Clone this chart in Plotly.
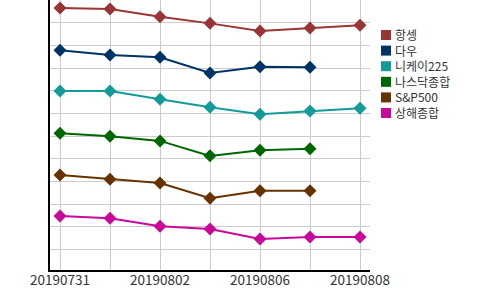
import plotly.graph_objects as go

dates = ["20190731", "20190801", "20190802", "20190805", "20190806", "20190807", "20190808"]
tick_labels = ["20190731", "20190802", "20190806", "20190808"]

series_names = ["항셍", "다우", "니케이225", "나스닥종합", "S&P500", "상해종합"]
hangseng = [11.65, 11.60, 11.26, 10.97, 10.63, 10.77, 10.89]
dow = [9.78, 9.58, 9.48, 8.78, 9.06, 9.04, None]
nikkei = [7.99, 7.99, 7.63, 7.27, 6.96, 7.11, 7.23]
nasdaq = [6.13, 6.00, 5.79, 5.13, 5.38, 5.44, None]
sp500 = [4.29, 4.10, 3.93, 3.26, 3.59, 3.59, None]
shanghai = [2.48, 2.38, 2.03, 1.91, 1.47, 1.55, 1.55]
colors = ["#993535", "#003366", "#159a9a", "#006600", "#663300", "#c8099a"]

values = [hangseng, dow, nikkei, nasdaq, sp500, shanghai]

fig = go.Figure()
for name, vals, c in zip(series_names, values, colors):
    fig.add_trace(go.Scatter(
        x=dates, y=vals, mode="lines+markers", name=name,
        line=dict(color=c, width=2),
        marker=dict(symbol="diamond", size=10, color=c),
        showlegend=False, connectgaps=False,
    ))

# custom legend (squares + one multi-line text) placed right of the plot
plot_h = 270.0
plot_w = 320.0
legend_font = 12
row_gap = legend_font * 1.3
first_row = 35.0
for i, c in enumerate(colors):
    py = first_row + i * row_gap
    yc = (plot_h - py) / plot_h
    h = 5 / plot_h
    fig.add_shape(type="rect", xref="paper", yref="paper",
                  x0=(381 - 50) / plot_w, x1=(391 - 50) / plot_w,
                  y0=yc - h, y1=yc + h,
                  fillcolor=c, line=dict(width=0))
block_center = first_row + (len(series_names) - 1) * row_gap / 2
fig.add_annotation(x=(394 - 50) / plot_w, y=(plot_h - block_center) / plot_h,
                   xref="paper", yref="paper",
                   text="<br>".join(series_names), showarrow=False,
                   xanchor="left", yanchor="middle", align="left",
                   borderpad=0,
                   font=dict(size=legend_font, color="#333333"))

ticktext = [d if d in tick_labels else "" for d in dates]

fig.update_layout(
    width=500, height=290,
    margin=dict(l=50, r=130, t=0, b=20),
    paper_bgcolor="white", plot_bgcolor="white",
    font=dict(family="Noto Sans CJK KR, Noto Sans, sans-serif", size=12, color="#333333"),
    showlegend=False,
    xaxis=dict(
        type="category", range=[-0.2, 6.2],
        tickvals=dates, ticktext=ticktext,
        showgrid=True, gridcolor="#cccccc", gridwidth=1,
        showline=True, linecolor="black", linewidth=1.5,
        ticks="", tickfont=dict(size=13.5, color="#333333"),
        ticklabelstandoff=-3,
        zeroline=False,
    ),
    yaxis=dict(
        range=[0.1, 12], dtick=1, showticklabels=False,
        showgrid=True, gridcolor="#cccccc", gridwidth=1,
        showline=True, linecolor="black", linewidth=1.5,
        zeroline=False, ticks="",
    ),
)

fig.write_html("out.html")
